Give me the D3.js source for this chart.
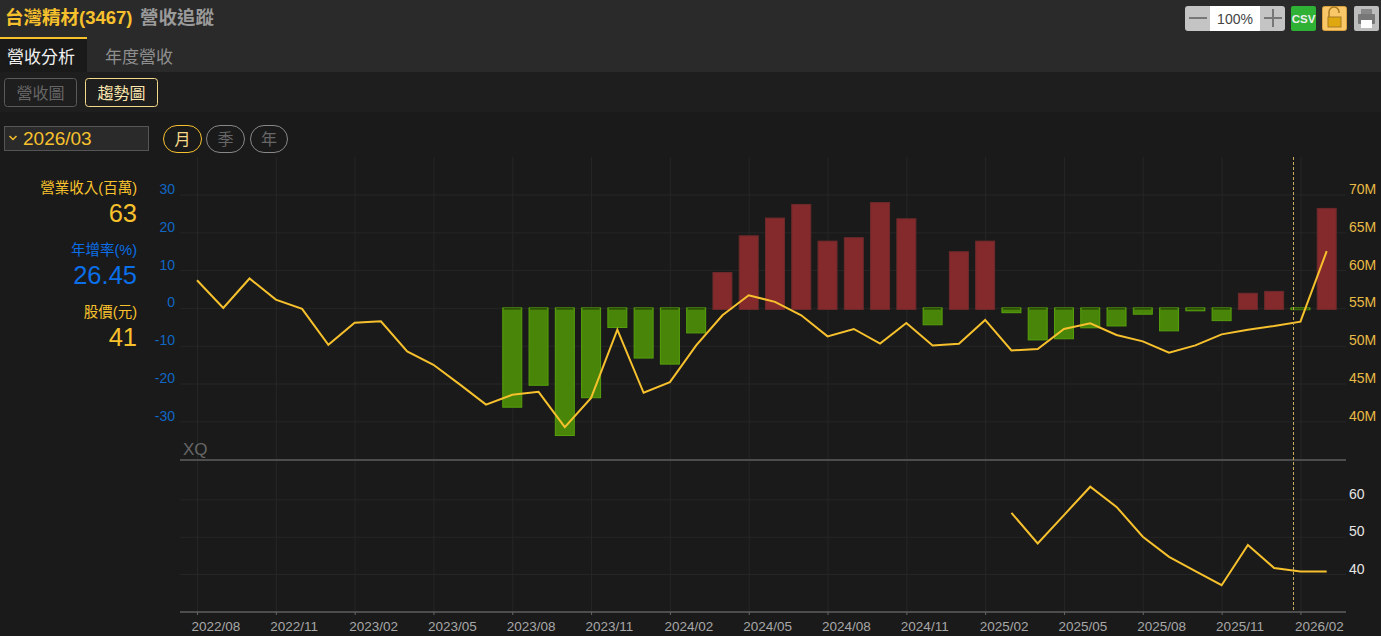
<!DOCTYPE html>
<html lang="zh-Hant">

<head>
    <meta charset="UTF-8">
    <title>營收追蹤</title>
    <script src="https://d3js.org/d3.v7.min.js"></script>
    <style>
        html, body { margin: 0; padding: 0; background: #1a1a1a; overflow: hidden; }
        svg { display: block; }
        text { font-family: "Liberation Sans", "Noto Sans CJK TC", sans-serif; }
        .grid line { stroke: #262626; stroke-width: 1; }
        .grid path { display: none; }
    </style>
</head>

<body>
    <div id="content"></div>
</body>
<script>
const months = [
    "2022/08", "2022/09", "2022/10", "2022/11", "2022/12",
    "2023/01", "2023/02", "2023/03", "2023/04", "2023/05", "2023/06", "2023/07", "2023/08", "2023/09", "2023/10", "2023/11", "2023/12",
    "2024/01", "2024/02", "2024/03", "2024/04", "2024/05", "2024/06", "2024/07", "2024/08", "2024/09", "2024/10", "2024/11", "2024/12",
    "2025/01", "2025/02", "2025/03", "2025/04", "2025/05", "2025/06", "2025/07", "2025/08", "2025/09", "2025/10", "2025/11", "2025/12",
    "2026/01", "2026/02", "2026/03"
];

// revenue in millions
const revenue = [
    58.66, 55.0, 58.89, 56.1, 54.87,
    50.13, 53.05, 53.22, 49.24, 47.48, 44.89, 42.21, 43.5, 43.9, 39.22, 43.1, 52.12,
    43.77, 45.19, 50.04, 54.02, 56.67, 55.8, 54.02, 51.23, 52.21, 50.27, 53.01, 50.04,
    50.27, 53.41, 49.38, 49.56, 52.21, 52.96, 51.42, 50.57, 49.07, 50.04, 51.5, 52.12,
    52.61, 53.18, 62.5
];

// yoy %, starts at 2023/08
const yoyMonths = months.slice(12);
const yoy = [
    -26.4, -20.6, -33.9, -23.9, -5.3,
    -13.4, -15, -6.75, 9.5, 19.2, 23.9, 27.5, 17.8, 18.7, 28, 23.7, -4.6,
    15, 17.8, -1.4, -8.6, -8.3, -5.4, -4.9, -1.8, -6.2, -0.9, -3.5, 4,
    4.5, -0.6, 26.45
];

// price, starts at 2025/03
const priceMonths = months.slice(31);
const price = [56.4, 48.2, 55.8, 63.4, 58, 50, 44.6, 40.8, 37, 47.8, 41.6, 40.7, 40.7];

const xTicks = ["2022/08", "2022/11", "2023/02", "2023/05", "2023/08", "2023/11", "2024/02", "2024/05", "2024/08", "2024/11", "2025/02", "2025/05", "2025/08", "2025/11", "2026/02"];
const yoyTicks = [-30, -20, -10, 0, 10, 20, 30];
const revenueTicks = [40, 45, 50, 55, 60, 65, 70];
const priceTicks = [40, 50, 60];

const width = 1381, height = 636;
const plotLeft = 180, plotRight = 1346, plotTop = 157, sepY = 460, bottomY = 612;
const yellow = "#f7c12d", blue = "#0a6fe8", axisBlue = "#1167c4";

const x = d3.scalePoint().domain(months).range([197, 1326.7]);
const yYoy = d3.scaleLinear().domain([-30, 30]).range([421.3, 194.5]);
const yRev = d3.scaleLinear().domain([40, 70]).range([421.3, 194.5]);
const yPrice = d3.scaleLinear().domain([40, 60]).range([574, 499.4]);

const svg = d3.select("#content").append("svg")
    .attr("width", width)
    .attr("height", height);

// page bands
function box(x0, y0, w, h, fill, stroke, rx) {
    return svg.append("rect").attr("x", x0).attr("y", y0).attr("width", w).attr("height", h)
        .attr("fill", fill).attr("stroke", stroke || "none").attr("rx", rx || 0);
}
function label(x0, y0, str, size, color, anchor, weight) {
    return svg.append("text").attr("x", x0).attr("y", y0).text(str)
        .attr("font-size", size).attr("fill", color)
        .attr("text-anchor", anchor || "start").attr("font-weight", weight || "normal");
}

box(0, 0, width, 72, "#2a2a2a");
box(0, 72, width, 40, "#1e1e1e");
box(0, 39, 87, 33, "#1a1a1a");
box(0, 37, 87, 2, yellow);

label(5, 24, "台灣精材(3467)", 18.5, yellow, "start", "bold");
label(140, 24, "營收追蹤", 18.5, "#9a9a9a", "start", "bold");
label(7, 63, "營收分析", 17, "#f0f0f0");
label(105, 63, "年度營收", 17, "#8f8f8f");

box(4.5, 78.5, 72, 28, "none", "#5a5a5a", 3);
label(40.5, 99, "營收圖", 16, "#666", "middle");
box(85.5, 78.5, 72, 28, "none", "#f3d98a", 3);
label(121.5, 99, "趨勢圖", 16, "#fbe7b0", "middle");

box(4.5, 126.5, 144, 24, "#2a2a2a", "#555");
svg.append("path").attr("d", "M9.5 136 L13 139.5 L16.5 136").attr("fill", "none").attr("stroke", yellow).attr("stroke-width", 1.5);
label(23, 145, "2026/03", 19, yellow);

box(163.5, 125.5, 38, 27, "none", yellow, 13.5);
label(182.5, 144.5, "月", 16, "#f7d98a", "middle");
box(206.5, 125.5, 38, 27, "none", "#888", 13.5);
label(225.5, 144.5, "季", 16, "#666", "middle");
box(250.5, 125.5, 37, 27, "none", "#888", 13.5);
label(269, 144.5, "年", 16, "#666", "middle");

// toolbar
box(1185, 6, 100, 25, "#c4c4c4", null, 3);
box(1210, 6, 50, 25, "#fff");
box(1189, 17, 18, 2, "#777");
box(1264, 17, 18, 2, "#777");
box(1272, 9, 2, 18, "#777");
label(1235, 23.5, "100%", 14, "#444", "middle");
box(1291, 6, 25, 25, "#2eb135", null, 2);
label(1303.5, 23, "CSV", 11.5, "#eee", "middle", "bold");
box(1322.5, 6.5, 24, 24, "#f9c768", "#d9a040", 2);
svg.append("path").attr("d", "M1329 17 V12 a5 5 0 0 1 10 0 V13").attr("fill", "none").attr("stroke", "#a87b20").attr("stroke-width", 1.5);
box(1328, 17, 13, 10, "#e0a810", "#a87b20");
box(1354, 6, 25, 25, "#bdbdbd", null, 2);
box(1358, 14, 17, 10, "#777", null, 1);
box(1361, 9, 11, 5, "#888");
box(1361, 20, 11, 8, "#fff");

// grids
const gridY = (sel, scale, ticks) => sel.call(d3.axisLeft(scale).tickValues(ticks).tickSize(plotLeft - plotRight).tickFormat(""));
svg.append("g").attr("class", "grid").attr("transform", `translate(${plotLeft},0)`).call(gridY, yYoy, yoyTicks);
svg.append("g").attr("class", "grid").attr("transform", `translate(${plotLeft},0)`).call(gridY, yPrice, priceTicks);
svg.append("g").attr("class", "grid").attr("transform", `translate(0,${plotTop})`)
    .call(d3.axisBottom(x).tickValues(xTicks).tickSize(bottomY - plotTop).tickFormat(""));

// bars
const barW = 20;
const zero = yYoy(0);
svg.append("g").selectAll("rect")
    .data(yoy)
    .join("rect")
    .attr("x", (d, i) => x(yoyMonths[i]) - barW / 2 + 0.5)
    .attr("y", d => d > 0 ? yYoy(d) + 0.5 : zero)
    .attr("width", barW - 1)
    .attr("height", d => d > 0 ? zero - yYoy(d) + 1 : yYoy(d) - zero - 0.5)
    .attr("fill", d => d > 0 ? "#842a2c" : "#488508")
    .attr("stroke", d => d > 0 ? "#6e2a2b" : "#57a00c")
    .attr("stroke-width", 1);
// dark cap on negative bars
svg.append("g").selectAll("line")
    .data(yoyMonths.filter((m, i) => yoy[i] < 0))
    .join("line")
    .attr("x1", d => x(d) - barW / 2 + 1.5)
    .attr("x2", d => x(d) + barW / 2 - 1.5)
    .attr("y1", zero + 1)
    .attr("y2", zero + 1)
    .attr("stroke", "#1a2a08")
    .attr("stroke-width", 1);

// lines
const revLine = d3.line().x((d, i) => x(months[i])).y(d => yRev(d));
svg.append("path").datum(revenue)
    .attr("d", revLine)
    .attr("fill", "none")
    .attr("stroke", yellow)
    .attr("stroke-width", 2);

const priceLine = d3.line().x((d, i) => x(priceMonths[i])).y(d => yPrice(d));
svg.append("path").datum(price)
    .attr("d", priceLine)
    .attr("fill", "none")
    .attr("stroke", yellow)
    .attr("stroke-width", 2);

// separators, cursor
box(plotLeft, sepY - 1, plotRight - plotLeft, 2, "#4d4d4d");
box(plotLeft, bottomY - 1, plotRight - plotLeft, 2, "#4d4d4d");
svg.append("line").attr("x1", 1293.5).attr("x2", 1293.5).attr("y1", plotTop).attr("y2", bottomY)
    .attr("stroke", "#c9a95a").attr("stroke-dasharray", "3,2").attr("stroke-width", 1);
label(183, 455, "XQ", 17, "#666");

// axes
function styleAxis(g, color, size) {
    g.select(".domain").remove();
    g.selectAll("line").remove();
    g.selectAll("text").attr("fill", color).attr("font-size", size).attr("dy", null);
}
svg.append("g").attr("transform", "translate(175,0)")
    .call(d3.axisLeft(yYoy).tickValues(yoyTicks).tickSize(0).tickPadding(0).tickFormat(d => String(d)))
    .call(styleAxis, axisBlue, 14)
    .selectAll("text").attr("y", -1);
svg.append("g").attr("transform", "translate(1349,0)")
    .call(d3.axisRight(yRev).tickValues(revenueTicks).tickSize(0).tickPadding(0).tickFormat(d => d + "M"))
    .call(styleAxis, "#e8bb45", 14)
    .selectAll("text").attr("y", -1);
svg.append("g").attr("transform", "translate(1349,0)")
    .call(d3.axisRight(yPrice).tickValues(priceTicks).tickSize(0).tickPadding(0))
    .call(styleAxis, "#e6e6e6", 14)
    .selectAll("text").attr("y", -1);

const xAxis = svg.append("g").attr("transform", `translate(0,${bottomY})`)
    .call(d3.axisBottom(x).tickValues(xTicks).tickSize(3).tickPadding(0));
xAxis.select(".domain").remove();
xAxis.selectAll("line").attr("stroke", "#666");
xAxis.selectAll("text")
    .attr("text-anchor", "start")
    .attr("x", -6)
    .attr("y", 19)
    .attr("dy", null)
    .attr("fill", "#a8a8a8")
    .attr("font-size", 13.5);

// left readout
label(137, 192.5, "營業收入(百萬)", 14.5, yellow, "end");
label(137, 222, "63", 25.5, yellow, "end");
label(137, 254.5, "年增率(%)", 14.5, blue, "end");
label(137, 284, "26.45", 25.5, blue, "end");
label(137, 316.5, "股價(元)", 14.5, yellow, "end");
label(137, 346, "41", 25.5, yellow, "end");
</script>
